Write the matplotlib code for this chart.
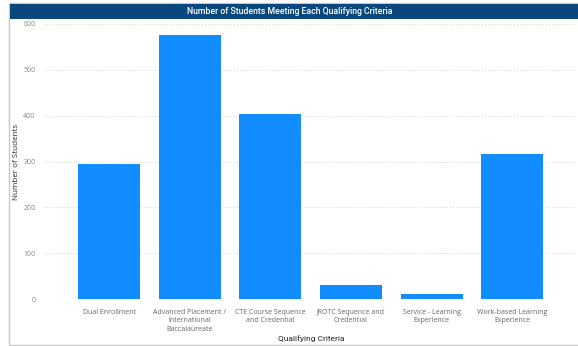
import matplotlib.pyplot as plt
from matplotlib.patches import Rectangle

# dados
criterios = [
    "Dual Enrollment",
    "Advanced Placement /\nInternational\nBaccalaureate",
    "CTE Course Sequence\nand Credential",
    "JROTC Sequence and\nCredential",
    "Service - Learning\nExperience",
    "Work-based Learning\nExperience",
]
alunos = [295, 576, 404, 30, 11, 317]
y_ticks = [0, 100, 200, 300, 400, 500, 600]

W, H = 578, 346
fig = plt.figure(figsize=(W / 100, H / 100), dpi=100)
fig.patch.set_facecolor("white")

# moldura do cartão e faixa do título
fig.add_artist(Rectangle((9 / W, 1 - 345 / H), 575 / W, 342 / H,
                         transform=fig.transFigure, facecolor="white",
                         edgecolor="#C8C8C8", linewidth=1.0, zorder=0))
fig.add_artist(Rectangle((10 / W, 1 - 19 / H), 568 / W, 15 / H,
                         transform=fig.transFigure, facecolor="#0A477D",
                         edgecolor="none", zorder=1))
fig.text(290 / W, 1 - 11.5 / H, "Number of Students Meeting Each Qualifying Criteria",
         ha="center", va="center", color="white", fontsize=6.3,
         fontfamily="Roboto", fontweight="medium", zorder=2)

ax = fig.add_axes([44 / W, 1 - 299 / H, 532 / W, 275 / H])
ax.set_facecolor("none")

x = range(len(criterios))
ax.bar(x, alunos, width=0.77, color="#118DFF", zorder=3)

ax.set_xlim(-0.806, 5.79)
ax.set_ylim(0, 600)
ax.set_yticks(y_ticks)
ax.set_xticks(list(x))
ax.set_xticklabels(criterios, fontsize=5, color="#666666", fontfamily="Open Sans",
                   linespacing=1.35)
ax.tick_params(axis="y", labelsize=5, labelcolor="#888888", length=0, pad=6)
ax.tick_params(axis="x", length=0, pad=7)
for lbl in ax.get_yticklabels():
    lbl.set_fontfamily("Open Sans")

ax.grid(axis="y", color="#D5D5D5", linestyle=(0, (1, 2)), linewidth=0.7, zorder=0)
for s in ax.spines.values():
    s.set_visible(False)

ax.set_ylabel("Number of Students", fontsize=5.8, color="#252525", fontfamily="Open Sans")
ax.yaxis.set_label_coords(-0.045, 0.5)
ax.set_xlabel("Qualifying Criteria", fontsize=6, color="#252525", fontfamily="Roboto")
ax.xaxis.set_label_coords(0.502, -0.132)

fig.savefig("out.png", dpi=100)
